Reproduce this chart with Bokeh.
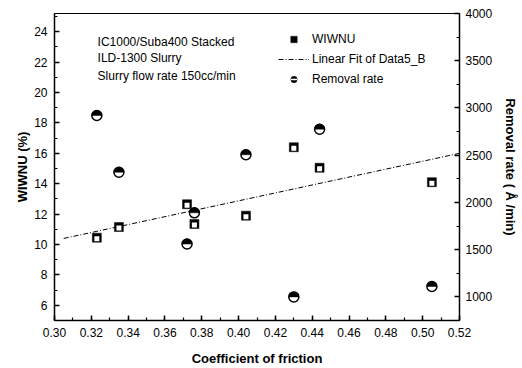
import math
from bokeh.plotting import figure
from bokeh.models import (Range1d, LinearAxis, SingleIntervalTicker, NumeralTickFormatter,
                          Legend, LegendItem, Label, ColumnDataSource)
from bokeh.embed import file_html
from bokeh.resources import INLINE

# ---- data ----
cof_wiwnu = [0.323, 0.335, 0.372, 0.376, 0.404, 0.430, 0.444, 0.505]
wiwnu = [10.45, 11.15, 12.65, 11.35, 11.9, 16.4, 15.05, 14.1]
cof_rate = [0.323, 0.335, 0.372, 0.376, 0.404, 0.430, 0.444, 0.505]
removal_rate = [2920, 2320, 1560, 1890, 2505, 1000, 2775, 1110]
fit_x = [0.305, 0.52]
fit_y = [10.4, 16.0]
notes = ["IC1000/Suba400 Stacked", "ILD-1300 Slurry", "Slurry flow rate 150cc/min"]

FONT = "Liberation Sans"
X0, X1 = 0.30, 0.52
Y0, Y1 = 5.0, 25.2
R0, R1 = 750, 4000

p = figure(width=522, height=368, output_backend="svg", toolbar_location=None,
           x_range=Range1d(X0, X1), y_range=Range1d(Y0, Y1),
           min_border_left=54, min_border_right=63, min_border_top=13, min_border_bottom=47)
p.background_fill_color = "white"
p.border_fill_color = "white"
p.outline_line_color = "black"
p.outline_line_width = 1
p.xgrid.visible = False
p.ygrid.visible = False

frame_h = 368 - 13 - 47
unit_per_px = (Y1 - Y0) / frame_h
p.extra_y_ranges = {
    "rate": Range1d(R0, R1),
    "shift": Range1d(Y0 + 1.0 * unit_per_px, Y1 + 1.0 * unit_per_px),
    # far-away range: glyphs on it fall outside the frame and only show in the legend
    "legend_only": Range1d(1e9, 2e9),
}

# axes styling
def style_axis(ax, interval, fmt=None):
    ax.ticker = SingleIntervalTicker(interval=interval, num_minor_ticks=2)
    if fmt:
        ax.formatter = NumeralTickFormatter(format=fmt)
    ax.axis_line_width = 1.5
    ax.axis_line_color = "black"
    ax.major_tick_in = 5
    ax.major_tick_out = 0
    ax.minor_tick_in = 3
    ax.minor_tick_out = 0
    ax.major_tick_line_width = 1.5
    ax.minor_tick_line_width = 1.2
    ax.major_tick_line_color = "black"
    ax.minor_tick_line_color = "black"
    ax.major_label_text_font = FONT
    ax.major_label_text_font_size = "12px"
    ax.major_label_text_color = "black"
    ax.axis_label_text_font = FONT
    ax.axis_label_text_font_size = "13px"
    ax.axis_label_text_font_style = "bold"
    ax.axis_label_text_color = "black"

xa = p.xaxis[0]
style_axis(xa, 0.02, "0.00")
xa.axis_label = "Coefficient of friction"
xa.major_label_standoff = 7
xa.axis_label_standoff = 11

ya = p.yaxis[0]
style_axis(ya, 2)
ya.axis_label = "WIWNU (%)"
ya.major_label_standoff = 7
ya.axis_label_standoff = 1

ra = LinearAxis(y_range_name="rate", axis_label="Removal rate ( Å /min)")
style_axis(ra, 500)
ra.major_label_standoff = 6
ra.axis_label_standoff = 8
p.add_layout(ra, "right")

# linear fit line
fit_r = p.line(fit_x, fit_y, line_color="black", line_width=1, line_dash="5 2 1 2")

# WIWNU squares: black square with white lower part
sq_black = p.scatter(cof_wiwnu, wiwnu, marker="square", size=9,
                     fill_color="black", line_color="black", line_width=0.5)
sq_white = p.scatter(cof_wiwnu, wiwnu, marker="square", size=5, y_range_name="shift",
                     fill_color="white", line_color=None)

# Removal-rate circles: white circle with black top half
rate_src = ColumnDataSource(dict(x=cof_rate, y=removal_rate))
c_white = p.scatter("x", "y", source=rate_src, marker="circle", size=10, y_range_name="rate",
                    fill_color="white", line_color="black", line_width=1.5)
c_top = p.wedge("x", "y", source=rate_src, radius=5, radius_units="screen",
                start_angle=0, end_angle=math.pi, y_range_name="rate",
                fill_color="black", line_color="black", line_width=0.5)

# legend symbols (drawn off-frame, visible only in the legend)
leg_sq = p.scatter(cof_wiwnu, wiwnu, marker="square", size=6, y_range_name="legend_only",
                   fill_color="black", line_color="black", line_width=0.5)
leg_c1 = p.scatter(cof_rate, removal_rate, marker="circle", size=7, y_range_name="legend_only",
                   fill_color="black", line_color="black", line_width=0.5)
leg_c2 = p.scatter(cof_rate, removal_rate, marker="dash", size=4, y_range_name="legend_only",
                   line_color="white", line_width=1.5)

legend = Legend(items=[
    LegendItem(label="WIWNU", renderers=[leg_sq]),
    LegendItem(label="Linear Fit of Data5_B", renderers=[fit_r]),
    LegendItem(label="Removal rate", renderers=[leg_c1, leg_c2]),
], location=(224, 233))
legend.label_text_font = FONT
legend.label_text_font_size = "12px"
legend.label_text_color = "black"
legend.glyph_width = 31
legend.glyph_height = 16
legend.label_height = 16
legend.label_standoff = 3
legend.spacing = 4
legend.padding = 0
legend.margin = 0
legend.border_line_color = None
legend.background_fill_alpha = 0
p.add_layout(legend)

# annotation text (upper left)
note_y = [23.35, 22.24, 21.07]
for t, yy in zip(notes, note_y):
    p.add_layout(Label(x=0.3234, y=yy, text=t, text_font=FONT, text_font_size="12px",
                       text_baseline="middle", text_color="black"))

open("out.html", "w").write(file_html(p, INLINE))
